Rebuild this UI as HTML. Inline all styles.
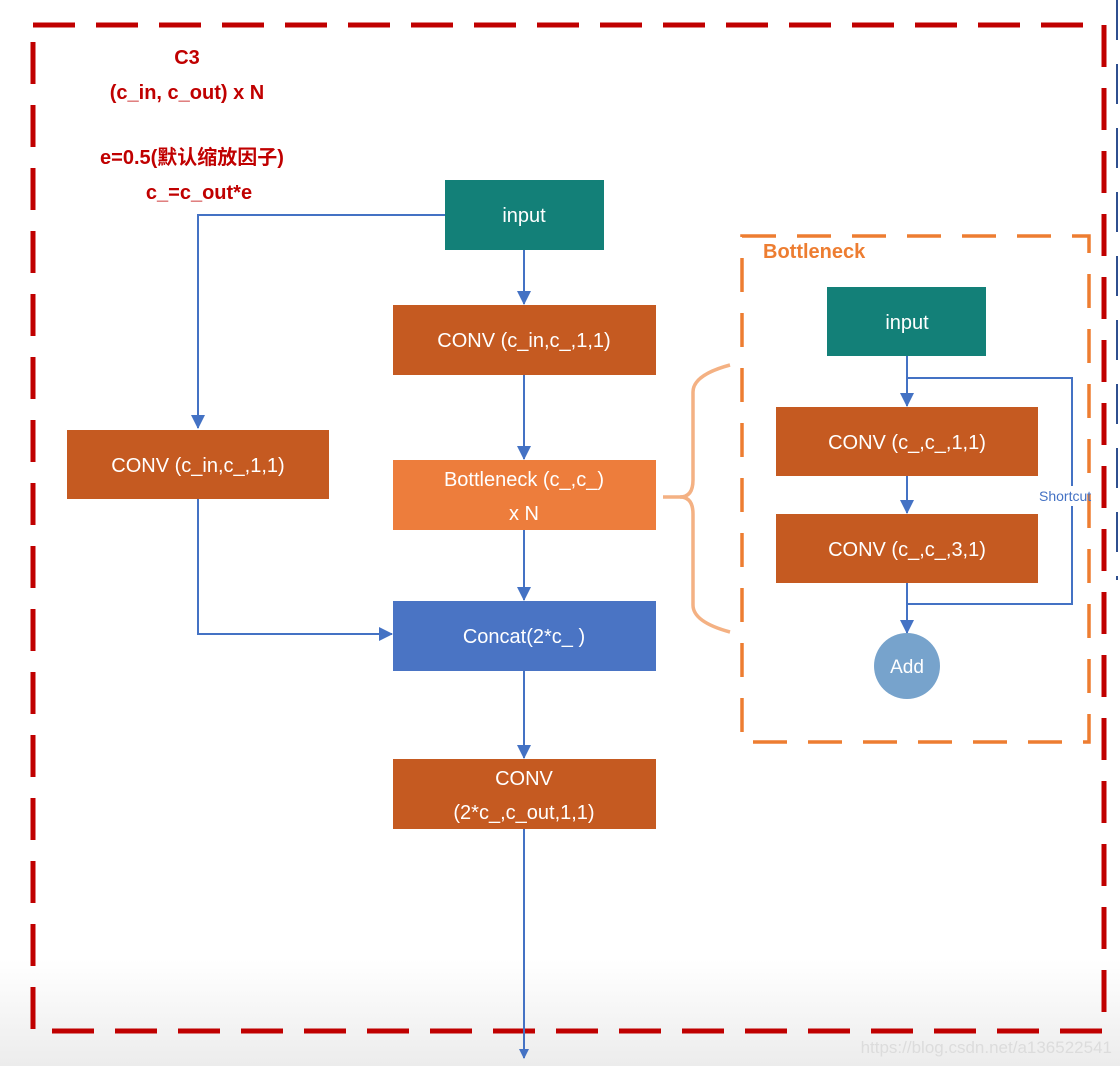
<!DOCTYPE html>
<html><head><meta charset="utf-8"><style>
body{margin:0;background:#fff}
svg text{font-family:"Liberation Sans","Noto Sans CJK SC",sans-serif}
</style></head><body>
<svg width="1120" height="1066" viewBox="0 0 1120 1066" xmlns="http://www.w3.org/2000/svg">
<defs>
<linearGradient id="g" x1="0" y1="0" x2="0" y2="1"><stop offset="0" stop-color="#fff"/><stop offset="1" stop-color="#ececec"/></linearGradient>
<marker id="a" markerWidth="10" markerHeight="10" refX="9" refY="5" orient="auto" markerUnits="userSpaceOnUse" viewBox="0 0 10 10"><path d="M0,0L10,5L0,10z" fill="#4472c4"/></marker>
<marker id="b" markerWidth="14" markerHeight="14" refX="13" refY="7" orient="auto" markerUnits="userSpaceOnUse" viewBox="0 0 14 14"><path d="M0,0L14,7L0,14z" fill="#4472c4"/></marker>
</defs>
<rect x="0" y="960" width="1120" height="106" fill="url(#g)"/>
<rect x="33" y="25" width="1071" height="1006" fill="none" stroke="#c00000" stroke-width="5" stroke-dasharray="42,21"/>
<line x1="1117" y1="0" x2="1117" y2="580" stroke="#2f4f8f" stroke-width="2" stroke-dasharray="40,24"/>
<g fill="#c00000" font-weight="bold" font-size="20" text-anchor="middle">
<text x="187" y="64">C3</text>
<text x="187" y="99">(c_in, c_out) x N</text>
<text x="192" y="164">e=0.5(默认缩放因子)</text>
<text x="199" y="199">c_=c_out*e</text>
</g>
<g stroke="#4472c4" stroke-width="2" fill="none">
<polyline points="445,215 198,215 198,428" marker-end="url(#b)"/>
<line x1="524" y1="250" x2="524" y2="304" marker-end="url(#b)"/>
<line x1="524" y1="375" x2="524" y2="459" marker-end="url(#b)"/>
<line x1="524" y1="530" x2="524" y2="600" marker-end="url(#b)"/>
<polyline points="198,499 198,634 392,634" marker-end="url(#b)"/>
<line x1="524" y1="671" x2="524" y2="758" marker-end="url(#b)"/>
<line x1="524" y1="829" x2="524" y2="1058" marker-end="url(#a)"/>
<line x1="907" y1="356" x2="907" y2="406" marker-end="url(#b)"/>
<line x1="907" y1="476" x2="907" y2="513" marker-end="url(#b)"/>
<line x1="907" y1="583" x2="907" y2="633" marker-end="url(#b)"/>
<polyline points="907,378 1072,378 1072,604 907,604"/>
</g>
<rect x="742" y="236" width="347" height="506" fill="none" stroke="#ed7d31" stroke-width="3.5" stroke-dasharray="34,21"/>
<rect x="1066" y="486" width="12" height="20" fill="#fff"/>
<text x="1039" y="501" font-size="14" fill="#4472c4">Shortcut</text>
<text x="763" y="258" font-size="20" font-weight="bold" fill="#ed7d31">Bottleneck</text>
<path d="M730,365 Q693,375 693,392 L693,480 Q693,497 680,497 Q693,497 693,514 L693,605 Q693,622 730,632" fill="none" stroke="#f4b183" stroke-width="3.5"/>
<line x1="663" y1="497" x2="682" y2="497" stroke="#f4b183" stroke-width="3.5"/>
<g font-size="20" fill="#fff" text-anchor="middle">
<rect x="445" y="180" width="159" height="70" fill="#138078"/><text x="524" y="222">input</text>
<rect x="393" y="305" width="263" height="70" fill="#c55a21"/><text x="524" y="347">CONV (c_in,c_,1,1)</text>
<rect x="67" y="430" width="262" height="69" fill="#c55a21"/><text x="198" y="472">CONV (c_in,c_,1,1)</text>
<rect x="393" y="460" width="263" height="70" fill="#ed7d3c"/><text x="524" y="486">Bottleneck (c_,c_)</text><text x="524" y="520">x N</text>
<rect x="393" y="601" width="263" height="70" fill="#4a74c4"/><text x="524" y="643">Concat(2*c_ )</text>
<rect x="393" y="759" width="263" height="70" fill="#c55a21"/><text x="524" y="785">CONV</text><text x="524" y="819">(2*c_,c_out,1,1)</text>
<rect x="827" y="287" width="159" height="69" fill="#138078"/><text x="907" y="329">input</text>
<rect x="776" y="407" width="262" height="69" fill="#c55a21"/><text x="907" y="449">CONV (c_,c_,1,1)</text>
<rect x="776" y="514" width="262" height="69" fill="#c55a21"/><text x="907" y="556">CONV (c_,c_,3,1)</text>
<circle cx="907" cy="666" r="33" fill="#77a3cc"/><text x="907" y="673" font-size="19">Add</text>
</g>
<text x="1112" y="1053" font-size="17" fill="#dcdcdc" text-anchor="end">https://blog.csdn.net/a136522541</text>
</svg>
</body></html>
